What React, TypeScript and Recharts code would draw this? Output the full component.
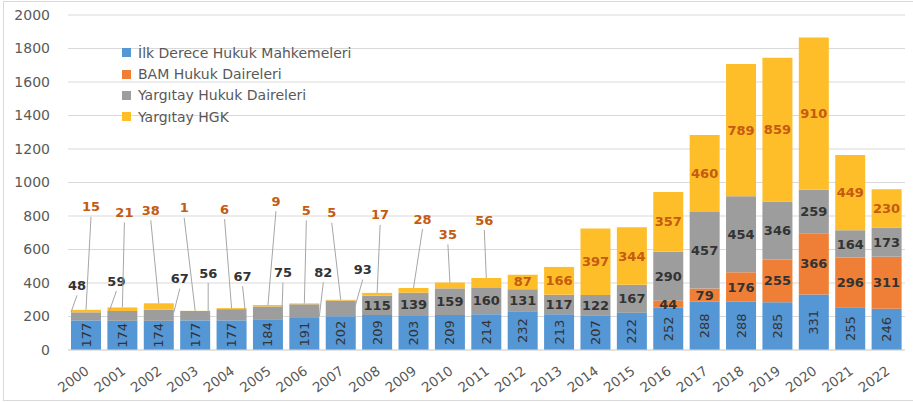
import React from 'react';
import { BarChart, Bar, XAxis, YAxis, CartesianGrid, Legend, LabelList } from 'recharts';

const years = ['2000', '2001', '2002', '2003', '2004', '2005', '2006', '2007', '2008', '2009', '2010', '2011',
  '2012', '2013', '2014', '2015', '2016', '2017', '2018', '2019', '2020', '2021', '2022'];
const ilkDerece = [177, 174, 174, 177, 177, 184, 191, 202, 209, 203, 209, 214, 232, 213, 207, 222, 252, 288, 288, 285, 331, 255, 246];
const bamHukuk = [0, 0, 0, 0, 0, 0, 0, 0, 0, 0, 0, 0, 0, 0, 0, 0, 44, 79, 176, 255, 366, 296, 311];
const yargitayHukuk = [48, 59, 67, 56, 67, 75, 82, 93, 115, 139, 159, 160, 131, 117, 122, 167, 290, 457, 454, 346, 259, 164, 173];
const yargitayHgk = [15, 21, 38, 1, 6, 9, 5, 5, 17, 28, 35, 56, 87, 166, 397, 344, 357, 460, 789, 859, 910, 449, 230];
const yTicks = [0, 200, 400, 600, 800, 1000, 1200, 1400, 1600, 1800, 2000];
const seriesNames = ['İlk Derece Hukuk Mahkemeleri', 'BAM Hukuk Daireleri', 'Yargıtay Hukuk Daireleri', 'Yargıtay HGK'];

const data = years.map((year, i) => ({
  year,
  ilk: ilkDerece[i],
  bam: bamHukuk[i],
  yh: yargitayHukuk[i],
  hgk: yargitayHgk[i],
}));

const FONT = '"DejaVu Sans", sans-serif';
const BLUE = '#5596D5';
const ORANGE = '#EF7F36';
const GRAY = '#9D9D9D';
const GOLD = '#FEBE2A';
const LEADER = '#A6A6A6';

// leader-line label placement for the thin early bars (offsets from bar centre / segment top)
const grayCallouts = [
  { dx: -9, dy: -27, ex: -15, ey: 0 },
  { dx: -6, dy: -30, ex: -13, ey: 0 },
  { dx: 21, dy: -31, ex: 15, ey: 3 },
  { dx: 13, dy: -38, ex: 13, ey: 4 },
  { dx: 11, dy: -33, ex: 14, ey: 6 },
  { dx: 15, dy: -34, ex: 14, ey: 6 },
  { dx: 19, dy: -32, ex: 15, ey: 12 },
  { dx: 22, dy: -31, ex: 14, ey: 7 },
];
const hgkCallouts = [
  { dx: 5, dy: -103 }, { dx: 2, dy: -95 }, { dx: -8, dy: -93 }, { dx: -11, dy: -103 },
  { dx: -7, dy: -99 }, { dx: 8, dy: -104 }, { dx: 2, dy: -93 }, { dx: -9, dy: -87 },
  { dx: 3, dy: -78 }, { dx: 9, dy: -69 }, { dx: -2, dy: -48 }, { dx: -2, dy: -58 },
];

const renderIlkLabel = (props: any) => {
  const { x, y, width, height, value } = props;
  const cx = Number(x) + Number(width) / 2;
  const cy = Number(y) + Number(height) / 2;
  return (
    <text x={cx} y={cy} dy="0.35em" textAnchor="middle" transform={`rotate(-90, ${cx}, ${cy})`}
      fill="#333" fontSize={13} fontFamily={FONT}>{value}</text>
  );
};

const renderBamLabel = (props: any) => {
  const { x, y, width, height, value } = props;
  if (!value) return null;
  return (
    <text x={Number(x) + Number(width) / 2} y={Number(y) + Number(height) / 2} dy="0.35em" textAnchor="middle"
      fill="#333" fontSize={13} fontWeight="bold" fontFamily={FONT}>{value}</text>
  );
};

const renderGrayLabel = (props: any) => {
  const { x, y, width, height, value, index } = props;
  const cx = Number(x) + Number(width) / 2;
  const top = Number(y);
  const c = grayCallouts[index];
  if (c) {
    const lx = cx + c.dx;
    const ly = top + c.dy;
    return (
      <g>
        <line x1={lx} y1={ly + 10} x2={cx + c.ex} y2={top + c.ey} stroke={LEADER} strokeWidth={1} />
        <text x={lx} y={ly} dy="0.35em" textAnchor="middle" fill="#333" fontSize={13} fontWeight="bold" fontFamily={FONT}>{value}</text>
      </g>
    );
  }
  return (
    <text x={cx} y={top + Number(height) / 2} dy="0.35em" textAnchor="middle"
      fill="#333" fontSize={13} fontWeight="bold" fontFamily={FONT}>{value}</text>
  );
};

const renderHgkLabel = (props: any) => {
  const { x, y, width, height, value, index } = props;
  const cx = Number(x) + Number(width) / 2;
  const top = Number(y);
  const c = hgkCallouts[index];
  if (c) {
    const lx = cx + c.dx;
    const ly = top + c.dy;
    return (
      <g>
        <line x1={lx} y1={ly + 10} x2={cx} y2={top} stroke={LEADER} strokeWidth={1} />
        <text x={lx} y={ly} dy="0.35em" textAnchor="middle" fill="#C55A11" fontSize={13} fontWeight="bold" fontFamily={FONT}>{value}</text>
      </g>
    );
  }
  return (
    <text x={cx} y={top + Number(height) / 2} dy="0.35em" textAnchor="middle"
      fill="#C55A11" fontSize={13} fontWeight="bold" fontFamily={FONT}>{value}</text>
  );
};

const YearTick = (props: any) => {
  const { x, y, payload } = props;
  return (
    <text x={0} y={0} dy="0.35em" textAnchor="end" fill="#595959" fontSize={13.5} fontFamily={FONT}
      transform={`translate(${x + 1}, ${y + 11}) rotate(-36)`}>{payload.value}</text>
  );
};

const renderLegend = (props: any) => {
  const items = [...(props.payload || [])].sort(
    (a: any, b: any) => seriesNames.indexOf(a.value) - seriesNames.indexOf(b.value)
  );
  return (
    <div style={{ fontFamily: FONT, fontSize: 14, color: '#595959' }}>
      {items.map((p: any) => (
        <div key={p.value} style={{ display: 'flex', alignItems: 'center', height: 21.4, whiteSpace: 'nowrap' }}>
          <span style={{ width: 9, height: 9, background: p.color, marginRight: 7, display: 'inline-block' }} />
          <span>{p.value}</span>
        </div>
      ))}
    </div>
  );
};

export default function App() {
  return (
    <div style={{ position: 'absolute', left: 0, top: 0, width: 913, height: 402, background: '#fff', overflow: 'hidden' }}>
      <div style={{ position: 'absolute', left: 3, top: 1, width: 920, height: 398, border: '1px solid #D9D9D9' }} />
      <BarChart width={913} height={402} data={data} margin={{ top: 15, right: 8, bottom: 12, left: 8 }} barSize={30}>
        <CartesianGrid vertical={false} stroke="#D9D9D9" />
        <XAxis dataKey="year" interval={0} height={40} tickLine={false} axisLine={{ stroke: '#D9D9D9' }} tick={<YearTick />} />
        <YAxis domain={[0, 2000]} ticks={yTicks} width={60} axisLine={false} tickLine={false} tickMargin={12}
          tick={{ fill: '#595959', fontSize: 14, fontFamily: FONT }} />
        <Legend layout="vertical" align="center" verticalAlign="middle" content={renderLegend}
          wrapperStyle={{ left: 122, top: 42, width: 300 }} />
        <Bar dataKey="ilk" name={seriesNames[0]} stackId="a" fill={BLUE} isAnimationActive={false}>
          <LabelList dataKey="ilk" content={renderIlkLabel} />
        </Bar>
        <Bar dataKey="bam" name={seriesNames[1]} stackId="a" fill={ORANGE} isAnimationActive={false}>
          <LabelList dataKey="bam" content={renderBamLabel} />
        </Bar>
        <Bar dataKey="yh" name={seriesNames[2]} stackId="a" fill={GRAY} isAnimationActive={false}>
          <LabelList dataKey="yh" content={renderGrayLabel} />
        </Bar>
        <Bar dataKey="hgk" name={seriesNames[3]} stackId="a" fill={GOLD} isAnimationActive={false}>
          <LabelList dataKey="hgk" content={renderHgkLabel} />
        </Bar>
      </BarChart>
    </div>
  );
}
